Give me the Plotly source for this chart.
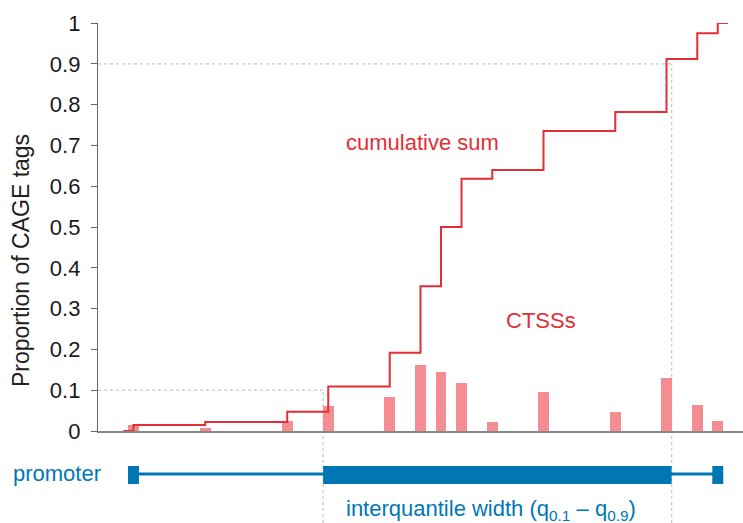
import numpy as np
import plotly.graph_objects as go

# CTSS positions (bp, relative to first CTSS) and their proportion of CAGE tags
positions = [0, 7, 15, 19, 25, 28, 30, 32, 35, 40, 47, 52, 55, 57]
proportions = [0.015, 0.007, 0.025, 0.062, 0.083, 0.163, 0.145, 0.118,
               0.022, 0.095, 0.047, 0.130, 0.063, 0.025]
q_low, q_high = 18.5, 52.5          # q0.1 and q0.9 positions
q_low_level, q_high_level = 0.1, 0.9
ytick_vals = [0, 0.1, 0.2, 0.3, 0.4, 0.5, 0.6, 0.7, 0.8, 0.9, 1]
ytick_text = ["0", "0.1", "0.2", "0.3", "0.4", "0.5", "0.6", "0.7", "0.8", "0.9", "1"]

cum = np.cumsum(proportions)
cum = cum / cum[-1]

W, H = 743, 523
L = 98
xmin, xmax = -3.46, 59.46
RED = "#e52d35"
PINK = "rgb(245,140,145)"
BLUE = "#0077b5"
GREY = "#c8c8c8"
FONT = "Liberation Sans, Arial, Helvetica, sans-serif"

def py(pix):
    return (H - pix) / H

fig = go.Figure()
fig.add_trace(go.Bar(x=positions, y=proportions, width=1.07,
                     marker=dict(color=PINK, line=dict(width=0)),
                     showlegend=False, hoverinfo="skip"))
step_x = [positions[0] - 1] + positions + [positions[-1] + 1]
step_y = [0] + list(cum) + [cum[-1]]
fig.add_trace(go.Scatter(x=step_x, y=step_y, mode="lines",
                         line=dict(color=RED, width=2, shape="hv"),
                         cliponaxis=False, showlegend=False, hoverinfo="skip"))

shapes = []
dot = dict(color=GREY, width=1.3, dash="dot")
# horizontal guides
shapes.append(dict(type="line", xref="x", yref="y", x0=xmin, x1=q_low,
                   y0=q_low_level, y1=q_low_level, line=dot, layer="below"))
shapes.append(dict(type="line", xref="x", yref="y", x0=xmin, x1=q_high,
                   y0=q_high_level, y1=q_high_level, line=dot, layer="below"))
# vertical guides (upper part + lower part)
for q, lv in [(q_low, q_low_level), (q_high, q_high_level)]:
    shapes.append(dict(type="line", xref="x", yref="y", x0=q, x1=q,
                       y0=0, y1=lv, line=dot, layer="below"))
    shapes.append(dict(type="line", xref="x", yref="paper", x0=q, x1=q,
                       y0=0, y1=py(431), line=dot, layer="below"))
# promoter track
shapes.append(dict(type="line", xref="x", yref="paper", x0=positions[0], x1=positions[-1],
                   y0=py(474), y1=py(474), line=dict(color=BLUE, width=3)))
shapes.append(dict(type="rect", xref="x", yref="paper", x0=q_low, x1=q_high,
                   y0=py(484), y1=py(466), fillcolor=BLUE, line=dict(width=0)))
for p in (positions[0], positions[-1]):
    shapes.append(dict(type="rect", xref="x", yref="paper", x0=p - 0.535, x1=p + 0.535,
                       y0=py(484), y1=py(466), fillcolor=BLUE, line=dict(width=0)))

annotations = [
    dict(text="cumulative sum", x=28.15, y=0.706, xref="x", yref="y", showarrow=False,
         font=dict(color=RED, size=22, family=FONT)),
    dict(text="CTSSs", x=39.8, y=0.272, xref="x", yref="y", showarrow=False,
         font=dict(color=RED, size=22, family=FONT)),
    dict(text="promoter", x=(103 - L) / (W - L), y=py(474), xref="paper", yref="paper",
         xanchor="right", yanchor="middle", showarrow=False,
         font=dict(color=BLUE, size=22, family=FONT)),
    dict(text="interquantile width (q<sub>0.1</sub> \u2013 q<sub>0.9</sub>)",
         x=(344 - L) / (W - L), y=py(510), xref="paper", yref="paper",
         xanchor="left", yanchor="middle", showarrow=False,
         font=dict(color=BLUE, size=22, family=FONT)),
    dict(text="Proportion of CAGE tags", x=(21 - L) / (W - L), y=py(261),
         xref="paper", yref="paper", textangle=-90, showarrow=False,
         xanchor="center", yanchor="middle",
         font=dict(color="#222222", size=23, family=FONT)),
]

fig.update_layout(
    width=W, height=H,
    margin=dict(l=L, r=0, t=0, b=0, pad=0),
    paper_bgcolor="white", plot_bgcolor="white",
    shapes=shapes, annotations=annotations, bargap=0,
    xaxis=dict(range=[xmin, xmax], showline=True, linecolor="#888888", linewidth=2,
               showticklabels=False, ticks="", showgrid=False, zeroline=False,
               automargin=False),
    yaxis=dict(range=[0, 1], domain=[py(431), py(23)], tickvals=ytick_vals,
               ticktext=ytick_text, ticks="outside", ticklen=6, tickcolor="#666666",
               tickwidth=1.3, showline=True, linecolor="#666666", linewidth=1.3,
               showgrid=False, zeroline=False, automargin=False,
               ticklabelstandoff=6,
               tickfont=dict(family=FONT, size=22, color="#1a1a1a")),
    font=dict(family=FONT),
)

fig.write_html("out.html", config={"displayModeBar": False},
               post_script="document.body.style.margin='0px';document.body.style.padding='0px';")
